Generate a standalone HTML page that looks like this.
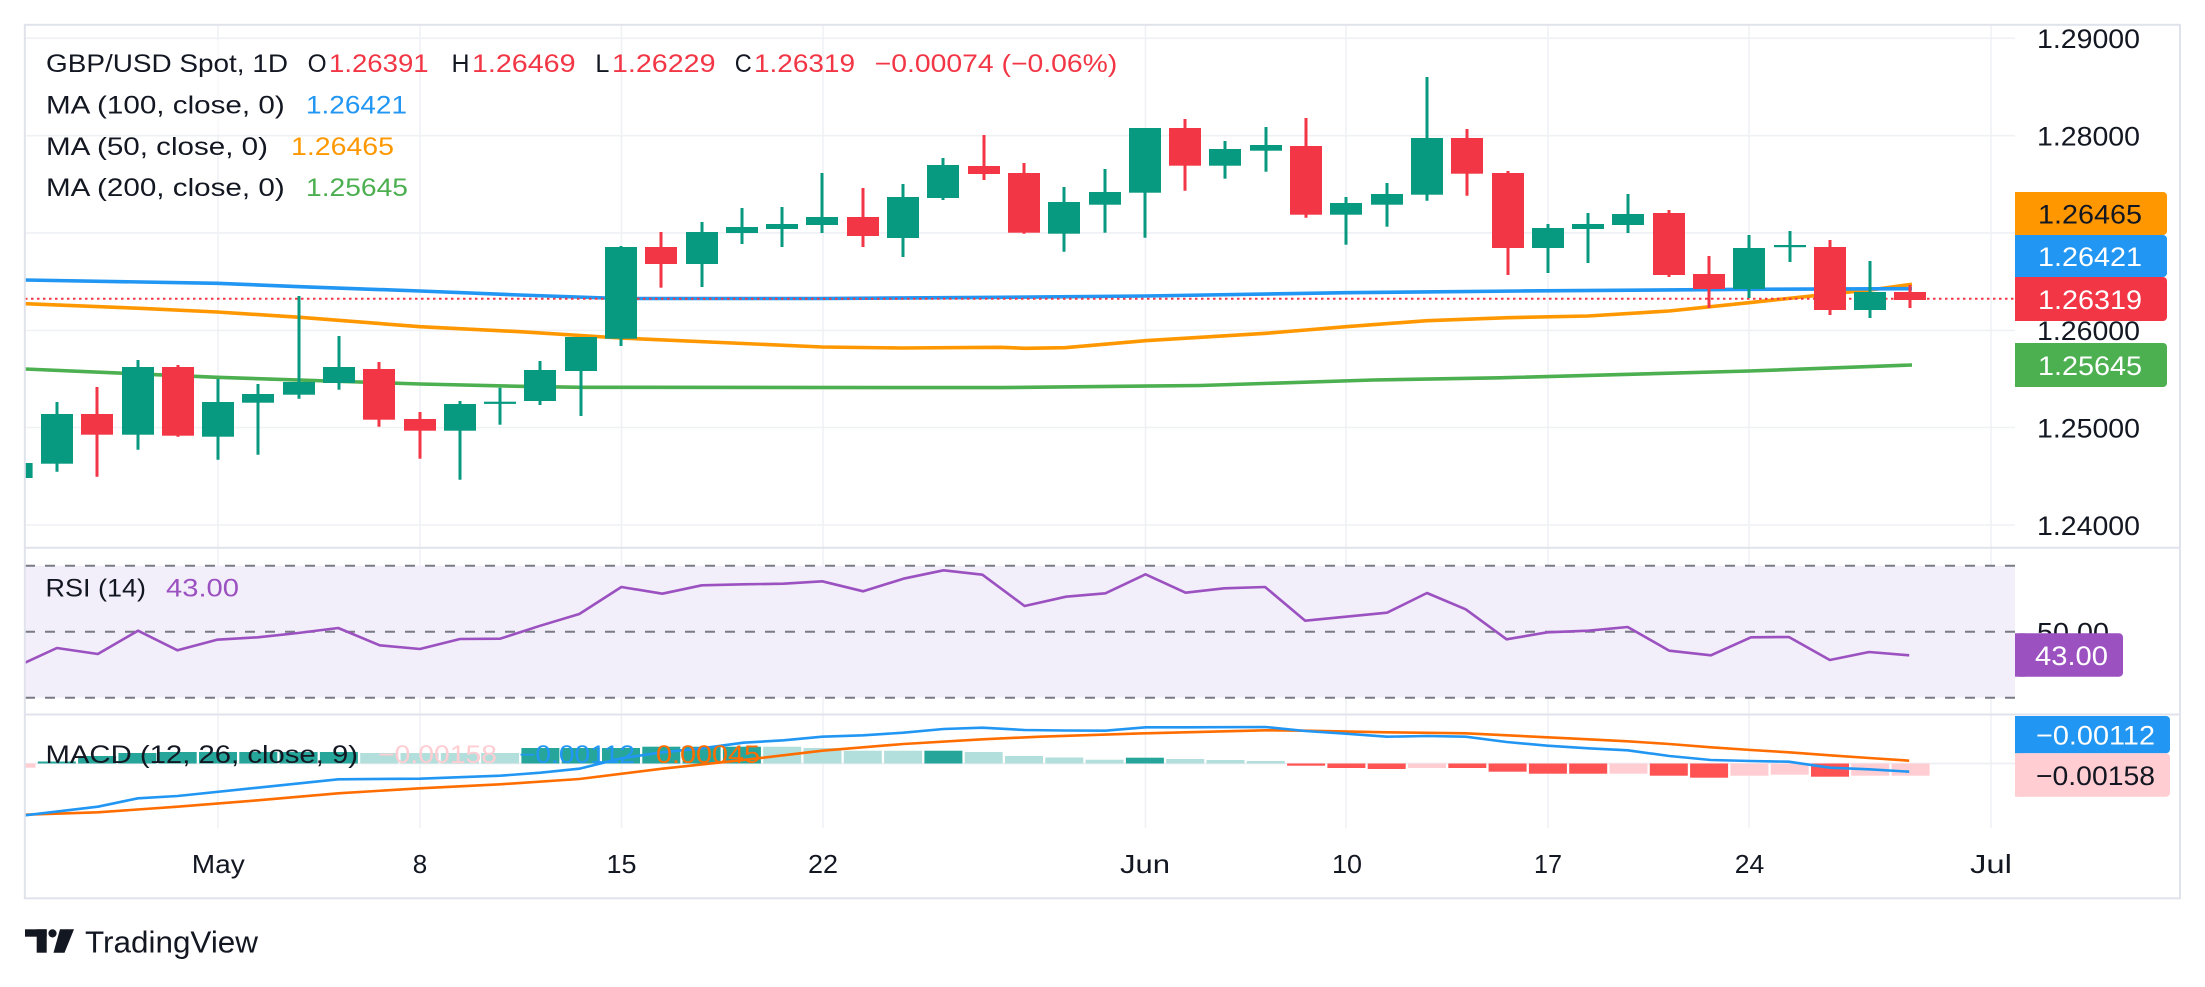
<!DOCTYPE html>
<html>
<head>
<meta charset="utf-8">
<style>
html,body{margin:0;padding:0;background:#fff;}
svg{display:block;}
text{font-family:"Liberation Sans",sans-serif;}
</style>
</head>
<body>
<svg width="2205" height="987" viewBox="0 0 2205 987" xmlns="http://www.w3.org/2000/svg">
<defs>
<clipPath id="cp"><rect x="25" y="25" width="1990" height="522"/></clipPath>
<clipPath id="cr"><rect x="25" y="549" width="1990" height="165"/></clipPath>
<clipPath id="cm"><rect x="25" y="715" width="1990" height="113"/></clipPath>
</defs>
<rect x="0" y="0" width="2205" height="987" fill="#ffffff"/>

<!-- vertical grid -->
<g stroke="#eff1f5" stroke-width="1.6">
<line x1="218" y1="25" x2="218" y2="828"/>
<line x1="420" y1="25" x2="420" y2="828"/>
<line x1="621.5" y1="25" x2="621.5" y2="828"/>
<line x1="823" y1="25" x2="823" y2="828"/>
<line x1="1145.5" y1="25" x2="1145.5" y2="828"/>
<line x1="1346" y1="25" x2="1346" y2="828"/>
<line x1="1548" y1="25" x2="1548" y2="828"/>
<line x1="1749" y1="25" x2="1749" y2="828"/>
<line x1="1991" y1="25" x2="1991" y2="828"/>
</g>
<!-- horizontal grid main -->
<g stroke="#eff1f5" stroke-width="1.6">
<line x1="25" y1="38.2" x2="2015" y2="38.2"/>
<line x1="25" y1="135.7" x2="2015" y2="135.7"/>
<line x1="25" y1="232.9" x2="2015" y2="232.9"/>
<line x1="25" y1="330.4" x2="2015" y2="330.4"/>
<line x1="25" y1="427.5" x2="2015" y2="427.5"/>
<line x1="25" y1="525" x2="2015" y2="525"/>
</g>
<rect x="26" y="40" width="393" height="94" fill="#ffffff" fill-opacity="0.6"/>

<!-- main pane -->
<g clip-path="url(#cp)">
<!-- MA lines -->
<polyline fill="none" stroke="#4caf50" stroke-width="3.6" stroke-linejoin="round" points="25,369 217,377.3 420,384 520,386.3 580,387.3 1000,387.6 1200,385.5 1373,380 1500,377.8 1749,371 1912,365"/>
<polyline fill="none" stroke="#ff9800" stroke-width="3.6" stroke-linejoin="round" points="25,303.7 140,308.3 217,312 300,317.3 420,326.7 520,331.7 620,338 822,347 900,348 1000,347.3 1025,348.3 1065,347.7 1145,340.7 1266,333.3 1306,330 1346,326.7 1427,320.7 1508,317.7 1588,316 1669,311 1749,302.7 1830,294 1870,290 1912,284.3"/>
<polyline fill="none" stroke="#2196f3" stroke-width="3.6" stroke-linejoin="round" points="25,280 217,283.3 300,286.7 420,291 520,295 620,298.5 822,298.5 1000,297.3 1145,296 1346,292.7 1520,291 1749,289.3 1912,288.7"/>
<!-- price line -->
<line x1="25" y1="298.7" x2="2015" y2="298.7" stroke="#f23645" stroke-width="2" stroke-dasharray="2.5 3.5"/>

<!-- green candles -->
<g fill="#089981" stroke="#089981" stroke-width="3">
<rect x="0.6" y="463" width="32" height="15" stroke="none"/>
<line x1="57" y1="402" x2="57" y2="471.7"/><rect x="41" y="414" width="32" height="49.7" stroke="none"/>
<line x1="138" y1="360" x2="138" y2="449.7"/><rect x="122" y="367" width="32" height="67.7" stroke="none"/>
<line x1="218" y1="379" x2="218" y2="459.7"/><rect x="202" y="402" width="32" height="34.7" stroke="none"/>
<line x1="258" y1="384" x2="258" y2="454.7"/><rect x="242" y="394" width="32" height="8.7" stroke="none"/>
<line x1="299" y1="296" x2="299" y2="398.7"/><rect x="283" y="382" width="32" height="12.7" stroke="none"/>
<line x1="339" y1="336" x2="339" y2="389.7"/><rect x="323" y="367" width="32" height="16" stroke="none"/>
<line x1="460" y1="401" x2="460" y2="479.7"/><rect x="444" y="404" width="32" height="26.7" stroke="none"/>
<line x1="500" y1="387.7" x2="500" y2="424.7"/><rect x="484" y="401.7" width="32" height="2.2" stroke="none"/>
<line x1="540" y1="361" x2="540" y2="405"/><rect x="524" y="370" width="32" height="31" stroke="none"/>
<line x1="581" y1="337" x2="581" y2="416"/><rect x="565" y="337" width="32" height="34" stroke="none"/>
<line x1="621" y1="246" x2="621" y2="346"/><rect x="605" y="247" width="32" height="91.7" stroke="none"/>
<line x1="702" y1="222" x2="702" y2="287"/><rect x="686" y="232" width="32" height="32" stroke="none"/>
<line x1="742" y1="208" x2="742" y2="244"/><rect x="726" y="227" width="32" height="6" stroke="none"/>
<line x1="782" y1="207" x2="782" y2="247"/><rect x="766" y="224" width="32" height="5" stroke="none"/>
<line x1="822" y1="173" x2="822" y2="233"/><rect x="806" y="217" width="32" height="8" stroke="none"/>
<line x1="903" y1="184" x2="903" y2="257"/><rect x="887" y="197" width="32" height="41" stroke="none"/>
<line x1="943" y1="158" x2="943" y2="200"/><rect x="927" y="165" width="32" height="33" stroke="none"/>
<line x1="1064" y1="187" x2="1064" y2="251.7"/><rect x="1048" y="202" width="32" height="31.7" stroke="none"/>
<line x1="1105" y1="169" x2="1105" y2="232.7"/><rect x="1089" y="192" width="32" height="12.7" stroke="none"/>
<line x1="1145" y1="128" x2="1145" y2="237.7"/><rect x="1129" y="128" width="32" height="64.7" stroke="none"/>
<line x1="1225" y1="141" x2="1225" y2="178.7"/><rect x="1209" y="149" width="32" height="16.7" stroke="none"/>
<line x1="1266" y1="127" x2="1266" y2="171.7"/><rect x="1250" y="145" width="32" height="5.7" stroke="none"/>
<line x1="1346" y1="197" x2="1346" y2="244.7"/><rect x="1330" y="203" width="32" height="11.7" stroke="none"/>
<line x1="1387" y1="183" x2="1387" y2="226.7"/><rect x="1371" y="194" width="32" height="10.7" stroke="none"/>
<line x1="1427" y1="77" x2="1427" y2="200.7"/><rect x="1411" y="138" width="32" height="56.7" stroke="none"/>
<line x1="1548" y1="224" x2="1548" y2="273"/><rect x="1532" y="228" width="32" height="20" stroke="none"/>
<line x1="1588" y1="213" x2="1588" y2="263"/><rect x="1572" y="224" width="32" height="5" stroke="none"/>
<line x1="1628" y1="194" x2="1628" y2="233"/><rect x="1612" y="214" width="32" height="11" stroke="none"/>
<line x1="1749" y1="235" x2="1749" y2="298"/><rect x="1733" y="248" width="32" height="41" stroke="none"/>
<line x1="1790" y1="231" x2="1790" y2="262"/><rect x="1774" y="245" width="32" height="2.2" stroke="none"/>
<line x1="1870" y1="261" x2="1870" y2="318"/><rect x="1854" y="292" width="32" height="18" stroke="none"/>
</g>
<!-- red candles -->
<g fill="#f23645" stroke="#f23645" stroke-width="3">
<line x1="97" y1="387" x2="97" y2="476.7"/><rect x="81" y="414" width="32" height="20.7" stroke="none"/>
<line x1="178" y1="365" x2="178" y2="436.7"/><rect x="162" y="367" width="32" height="68.7" stroke="none"/>
<line x1="379" y1="362" x2="379" y2="426.7"/><rect x="363" y="369" width="32" height="50.7" stroke="none"/>
<line x1="420" y1="412" x2="420" y2="458.7"/><rect x="404" y="419" width="32" height="11.7" stroke="none"/>
<line x1="661" y1="232" x2="661" y2="287.7"/><rect x="645" y="247" width="32" height="17" stroke="none"/>
<line x1="863" y1="188" x2="863" y2="247"/><rect x="847" y="217" width="32" height="19" stroke="none"/>
<line x1="984" y1="135" x2="984" y2="180"/><rect x="968" y="166" width="32" height="8" stroke="none"/>
<line x1="1024" y1="163" x2="1024" y2="233.7"/><rect x="1008" y="173" width="32" height="59.7" stroke="none"/>
<line x1="1185" y1="119" x2="1185" y2="190.7"/><rect x="1169" y="128" width="32" height="37.7" stroke="none"/>
<line x1="1306" y1="118" x2="1306" y2="217.7"/><rect x="1290" y="146" width="32" height="68.7" stroke="none"/>
<line x1="1467" y1="129" x2="1467" y2="195.7"/><rect x="1451" y="138" width="32" height="35.7" stroke="none"/>
<line x1="1508" y1="171" x2="1508" y2="275"/><rect x="1492" y="173" width="32" height="75" stroke="none"/>
<line x1="1669" y1="210" x2="1669" y2="277"/><rect x="1653" y="213" width="32" height="62" stroke="none"/>
<line x1="1709" y1="256" x2="1709" y2="308"/><rect x="1693" y="274" width="32" height="15" stroke="none"/>
<line x1="1830" y1="240" x2="1830" y2="315"/><rect x="1814" y="247" width="32" height="63" stroke="none"/>
<line x1="1910" y1="285" x2="1910" y2="308"/><rect x="1894" y="292" width="32" height="8" stroke="none"/>
</g>
</g>

<!-- legend main -->
<g font-size="25" fill="#131722">
<text x="46" y="72" textLength="242" lengthAdjust="spacingAndGlyphs">GBP/USD Spot, 1D</text>
<text x="307.6" y="72" textLength="19" lengthAdjust="spacingAndGlyphs">O</text>
<text x="329" y="72" textLength="99.6" lengthAdjust="spacingAndGlyphs" fill="#f23645">1.26391</text>
<text x="451.5" y="72" textLength="18" lengthAdjust="spacingAndGlyphs">H</text>
<text x="472" y="72" textLength="103.5" lengthAdjust="spacingAndGlyphs" fill="#f23645">1.26469</text>
<text x="595.4" y="72" textLength="14" lengthAdjust="spacingAndGlyphs">L</text>
<text x="612" y="72" textLength="103.5" lengthAdjust="spacingAndGlyphs" fill="#f23645">1.26229</text>
<text x="734.7" y="72" textLength="17" lengthAdjust="spacingAndGlyphs">C</text>
<text x="754" y="72" textLength="101" lengthAdjust="spacingAndGlyphs" fill="#f23645">1.26319</text>
<text x="874.7" y="72" textLength="242.6" lengthAdjust="spacingAndGlyphs" fill="#f23645">−0.00074 (−0.06%)</text>
<text x="46" y="113.5" textLength="238.7" lengthAdjust="spacingAndGlyphs">MA (100, close, 0)</text>
<text x="306" y="113.5" textLength="101" lengthAdjust="spacingAndGlyphs" fill="#2196f3">1.26421</text>
<text x="46" y="155" textLength="222" lengthAdjust="spacingAndGlyphs">MA (50, close, 0)</text>
<text x="291" y="155" textLength="103" lengthAdjust="spacingAndGlyphs" fill="#ff9800">1.26465</text>
<text x="46" y="196" textLength="238.7" lengthAdjust="spacingAndGlyphs">MA (200, close, 0)</text>
<text x="306" y="196" textLength="102" lengthAdjust="spacingAndGlyphs" fill="#4caf50">1.25645</text>
</g>

<!-- price axis labels -->
<g font-size="27" fill="#131722">
<text x="2037" y="48" textLength="103" lengthAdjust="spacingAndGlyphs">1.29000</text>
<text x="2037" y="145.5" textLength="103" lengthAdjust="spacingAndGlyphs">1.28000</text>
<text x="2037" y="340.2" textLength="103" lengthAdjust="spacingAndGlyphs">1.26000</text>
<text x="2037" y="437.3" textLength="103" lengthAdjust="spacingAndGlyphs">1.25000</text>
<text x="2037" y="534.8" textLength="103" lengthAdjust="spacingAndGlyphs">1.24000</text>
</g>
<!-- price label boxes -->
<rect x="2015" y="192" width="152" height="43" rx="4" fill="#ff9800"/>
<rect x="2015" y="192" width="10" height="43" fill="#ff9800"/>
<rect x="2015" y="235" width="152" height="42" rx="4" fill="#2196f3"/>
<rect x="2015" y="235" width="10" height="42" fill="#2196f3"/>
<rect x="2015" y="277" width="152" height="44" rx="4" fill="#f23645"/>
<rect x="2015" y="277" width="10" height="44" fill="#f23645"/>
<rect x="2015" y="343" width="152" height="44" rx="4" fill="#4caf50"/>
<rect x="2015" y="343" width="10" height="44" fill="#4caf50"/>
<g font-size="27">
<text x="2038" y="223.5" textLength="104" lengthAdjust="spacingAndGlyphs" fill="#131722">1.26465</text>
<text x="2038" y="266" textLength="104" lengthAdjust="spacingAndGlyphs" fill="#ffffff">1.26421</text>
<text x="2038" y="309" textLength="104" lengthAdjust="spacingAndGlyphs" fill="#ffffff">1.26319</text>
<text x="2038" y="375" textLength="104" lengthAdjust="spacingAndGlyphs" fill="#ffffff">1.25645</text>
</g>

<!-- RSI pane -->
<rect x="25" y="565.7" width="1990" height="132" fill="#f2eefa"/>
<g stroke="#787b86" stroke-width="2" stroke-dasharray="10 10">
<line x1="25" y1="565.7" x2="2015" y2="565.7"/>
<line x1="25" y1="631.7" x2="2015" y2="631.7"/>
<line x1="25" y1="697.7" x2="2015" y2="697.7"/>
</g>
<g clip-path="url(#cr)">
<polyline fill="none" stroke="#9b51c0" stroke-width="2.6" stroke-linejoin="round" points="25,662.7 56.9,648 97.8,654 138,630.7 177.5,650.3 217,639.7 257.8,637.3 298,633 338.2,628 379.7,645.3 419.9,649 460,639 500.2,638.7 540.4,625.7 579.3,614 621.4,587 662.3,593.7 701.8,585.3 743.3,584.3 783.5,583.7 822.3,581.3 863.2,591.3 903.4,578.7 943.5,570.3 982.4,574.7 1024.6,606 1066,596.7 1105.4,593.3 1145.5,574.3 1185.6,592.7 1224.2,588.3 1265.1,587 1305.2,620.7 1346,616.7 1387,612.7 1427,593 1465.7,609.3 1506.6,639.3 1547.4,632.3 1588.3,630.7 1627.7,627 1669.3,650.7 1710.9,655.3 1751,637.3 1788.9,637 1829.8,660 1869.1,652 1909.2,655.3"/>
</g>
<g font-size="25">
<text x="45.5" y="596.5" textLength="100.5" lengthAdjust="spacingAndGlyphs" fill="#131722">RSI (14)</text>
<text x="166" y="596.5" textLength="73" lengthAdjust="spacingAndGlyphs" fill="#9b51c0">43.00</text>
</g>
<text x="2037" y="641.7" font-size="27" textLength="72" lengthAdjust="spacingAndGlyphs" fill="#131722">50.00</text>
<rect x="2015" y="633.3" width="108" height="43.4" rx="4" fill="#9b51c0"/>
<rect x="2015" y="633.3" width="10" height="43.4" fill="#9b51c0"/>
<text x="2035" y="665" font-size="27" textLength="73" lengthAdjust="spacingAndGlyphs" fill="#ffffff">43.00</text>

<!-- MACD pane -->
<line x1="25" y1="763.5" x2="2015" y2="763.5" stroke="#eceef2" stroke-width="1.6"/>
<g clip-path="url(#cm)">
<g fill="#26a69a">
<rect x="37.8" y="761.5" width="38" height="2"/>
<rect x="78.1" y="756" width="38" height="7.5"/>
<rect x="118.4" y="753" width="38" height="10.5"/>
<rect x="158.7" y="752" width="38" height="11.5"/>
<rect x="199" y="752" width="38" height="11.5"/>
<rect x="239.3" y="752" width="38" height="11.5"/>
<rect x="279.6" y="752" width="38" height="11.5"/>
<rect x="319.9" y="752" width="38" height="11.5"/>
<rect x="521.4" y="748" width="38" height="15.5"/>
<rect x="561.7" y="748" width="38" height="15.5"/>
<rect x="602" y="748" width="38" height="15.5"/>
<rect x="642.3" y="746.7" width="38" height="16.8"/>
<rect x="682.6" y="746.7" width="38" height="16.8"/>
<rect x="722.9" y="746.7" width="38" height="16.8"/>
<rect x="924.4" y="750.7" width="38" height="12.8"/>
<rect x="1125.9" y="757.7" width="38" height="5.8"/>
</g>
<g fill="#b2dfdb">
<rect x="360.2" y="753" width="38" height="10.5"/>
<rect x="400.5" y="753" width="38" height="10.5"/>
<rect x="440.8" y="753" width="38" height="10.5"/>
<rect x="481.1" y="753" width="38" height="10.5"/>
<rect x="763.2" y="746.7" width="38" height="16.8"/>
<rect x="803.5" y="748" width="38" height="15.5"/>
<rect x="843.8" y="750.7" width="38" height="12.8"/>
<rect x="884.1" y="750.7" width="38" height="12.8"/>
<rect x="964.7" y="752" width="38" height="11.5"/>
<rect x="1005" y="756" width="38" height="7.5"/>
<rect x="1045.3" y="757.5" width="38" height="6"/>
<rect x="1085.6" y="759.7" width="38" height="3.8"/>
<rect x="1166.2" y="759" width="38" height="4.5"/>
<rect x="1206.5" y="760" width="38" height="3.5"/>
<rect x="1246.8" y="761" width="38" height="2.5"/>
</g>
<g fill="#ff5252">
<rect x="1287.1" y="763.5" width="38" height="2.2"/>
<rect x="1327.4" y="763.5" width="38" height="4.5"/>
<rect x="1367.7" y="763.5" width="38" height="5.5"/>
<rect x="1448.3" y="763.5" width="38" height="4.5"/>
<rect x="1488.6" y="763.5" width="38" height="8.2"/>
<rect x="1528.9" y="763.5" width="38" height="10.2"/>
<rect x="1569.2" y="763.5" width="38" height="10.2"/>
<rect x="1649.8" y="763.5" width="38" height="12.2"/>
<rect x="1690.1" y="763.5" width="38" height="14.2"/>
<rect x="1811" y="763.5" width="38" height="13.2"/>
</g>
<g fill="#ffcdd2">
<rect x="-2.5" y="763.5" width="38" height="4.2"/>
<rect x="1408" y="763.5" width="38" height="4.5"/>
<rect x="1609.5" y="763.5" width="38" height="10.2"/>
<rect x="1730.4" y="763.5" width="38" height="12.2"/>
<rect x="1770.7" y="763.5" width="38" height="11.2"/>
<rect x="1851.3" y="763.5" width="38" height="12.2"/>
<rect x="1891.6" y="763.5" width="38" height="12.2"/>
</g>
<polyline fill="none" stroke="#ff6d00" stroke-width="2.6" stroke-linejoin="round" points="25,814.7 97.8,812.3 177.5,806.7 257.8,800.3 338.2,793.3 419.9,788.3 500.2,784.3 579.3,779 662.3,768.7 743.3,760 822.3,750.7 903.4,744 982.4,739.3 1040,736.7 1145.5,733.3 1265.1,730.3 1305.2,730.7 1387,732.3 1465.7,733.3 1547.4,737.3 1588.3,739.3 1627.7,741.3 1669.3,744 1710.9,747.3 1751,750 1788.9,752.3 1829.8,755.3 1869.1,758 1909.2,760.7"/>
<polyline fill="none" stroke="#2196f3" stroke-width="2.6" stroke-linejoin="round" points="25,815.3 97.8,806.7 138,798.3 177.5,796 257.8,787.7 338.2,779.3 419.9,778.7 500.2,775.7 540.4,772.7 579.3,768.7 621.4,758.3 662.3,752.3 701.8,748.3 743.3,742.7 783.5,740.3 822.3,736.7 863.2,735.3 903.4,732.7 943.5,729 982.4,727.7 1024.6,730 1064,730.5 1105.4,730.7 1145.5,727.3 1185.6,727.3 1265.1,727 1305.2,731 1346,733.7 1387,736.7 1427,736 1465.7,736.7 1506.6,742 1547.4,745.7 1588.3,748.3 1627.7,750.3 1669.3,756 1710.9,760 1751,761 1788.9,761.7 1829.8,767.7 1869.1,769.3 1909.2,771.7"/>
</g>
<g font-size="25">
<text x="45.5" y="763" textLength="312.5" lengthAdjust="spacingAndGlyphs" fill="#131722">MACD (12, 26, close, 9)</text>
<text x="378" y="763" textLength="119" lengthAdjust="spacingAndGlyphs" fill="#ffcdd2">−0.00158</text>
<text x="519" y="763" textLength="116" lengthAdjust="spacingAndGlyphs" fill="#2196f3">−0.00112</text>
<text x="656" y="763" textLength="104" lengthAdjust="spacingAndGlyphs" fill="#ff6d00">0.00045</text>
</g>
<rect x="2015" y="716" width="155" height="37.3" rx="4" fill="#2196f3"/>
<rect x="2015" y="716" width="10" height="37.3" fill="#2196f3"/>
<rect x="2015" y="753.3" width="155" height="43.4" rx="4" fill="#ffcdd2"/>
<rect x="2015" y="753.3" width="10" height="43.4" fill="#ffcdd2"/>
<g font-size="27">
<text x="2036" y="744.5" textLength="119" lengthAdjust="spacingAndGlyphs" fill="#ffffff">−0.00112</text>
<text x="2036" y="785" textLength="119" lengthAdjust="spacingAndGlyphs" fill="#131722">−0.00158</text>
</g>

<!-- time axis -->
<g font-size="26" fill="#131722" text-anchor="middle">
<text x="218.3" y="873" textLength="53" lengthAdjust="spacingAndGlyphs">May</text>
<text x="420" y="873">8</text>
<text x="621.5" y="873" textLength="30" lengthAdjust="spacingAndGlyphs">15</text>
<text x="823" y="873" textLength="30" lengthAdjust="spacingAndGlyphs">22</text>
<text x="1145" y="873" textLength="50" lengthAdjust="spacingAndGlyphs">Jun</text>
<text x="1347" y="873" textLength="30" lengthAdjust="spacingAndGlyphs">10</text>
<text x="1548" y="873" textLength="28" lengthAdjust="spacingAndGlyphs">17</text>
<text x="1749.5" y="873" textLength="29.5" lengthAdjust="spacingAndGlyphs">24</text>
<text x="1991" y="873" textLength="42" lengthAdjust="spacingAndGlyphs">Jul</text>
</g>

<!-- borders -->
<g stroke="#e0e3eb" stroke-width="2" fill="none">
<rect x="24.8" y="24.8" width="2155.2" height="873.5"/>
<line x1="25" y1="547.8" x2="2180" y2="547.8"/>
<line x1="25" y1="714.5" x2="2180" y2="714.5"/>
</g>

<!-- TradingView logo -->
<g fill="#131722">
<rect x="25" y="929.3" width="21.7" height="7.4"/>
<rect x="36.7" y="929.3" width="10" height="23.4"/>
<circle cx="52.5" cy="933.4" r="4.1"/>
<polygon points="60,929.3 74,929.3 64.5,952.7 53.5,952.7"/>
</g>
<text x="85" y="952.7" font-size="31" fill="#131722" textLength="173" lengthAdjust="spacingAndGlyphs">TradingView</text>
</svg>
</body>
</html>
